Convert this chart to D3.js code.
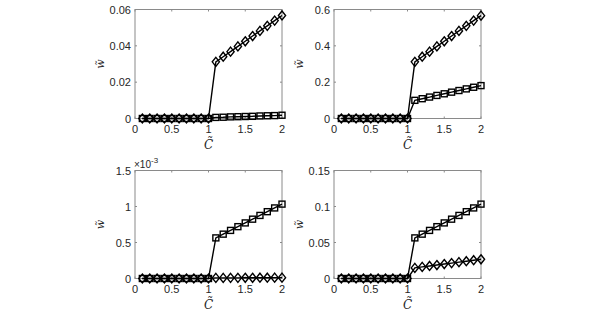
<!DOCTYPE html>
<html><head><meta charset="utf-8">
<script src="https://cdn.jsdelivr.net/npm/d3@7"></script>
<style>body{margin:0;background:#fff}svg{display:block}</style>
</head><body><svg id="c" width="598" height="321"></svg>
<script>
const xVals = [0.1,0.2,0.3,0.4,0.5,0.6,0.7,0.8,0.9,1.0,1.1,1.2,1.3,1.4,1.5,1.6,1.7,1.8,1.9,2.0];
const xTicks = [0,0.5,1,1.5,2];
// panel 1 (top-left)
const p1Diamond = [0,0,0,0,0,0,0,0,0,0,0.0312,0.0340,0.0368,0.0397,0.0425,0.0454,0.0482,0.0510,0.0539,0.0567];
const p1Square  = [0,0,0,0,0,0,0,0,0,0,0.0006,0.0007,0.0009,0.0010,0.0011,0.0012,0.0014,0.0015,0.0016,0.0018];
const p1YTicks = [0,0.02,0.04,0.06];
const p1YLabels = ["0","0.02","0.04","0.06"];
// panel 2 (top-right)
const p2Diamond = [0,0,0,0,0,0,0,0,0,0,0.312,0.340,0.368,0.397,0.425,0.454,0.482,0.510,0.539,0.566];
const p2Square  = [0,0,0,0,0,0,0,0,0,0,0.100,0.109,0.118,0.127,0.136,0.145,0.154,0.163,0.172,0.181];
const p2YTicks = [0,0.2,0.4,0.6];
const p2YLabels = ["0","0.2","0.4","0.6"];
// panel 3 (bottom-left), values in units of 1e-3
const p3Diamond = [0,0,0,0,0,0,0,0,0,0,0.008,0.008,0.009,0.009,0.010,0.010,0.011,0.011,0.012,0.012];
const p3Square  = [0,0,0,0,0,0,0,0,0,0,0.564,0.616,0.668,0.720,0.772,0.824,0.876,0.928,0.980,1.033];
const p3YTicks = [0,0.5,1,1.5];
const p3YLabels = ["0","0.5","1","1.5"];
// panel 4 (bottom-right)
const p4Diamond = [0,0,0,0,0,0,0,0,0,0,0.0147,0.0161,0.0174,0.0187,0.0201,0.0214,0.0227,0.0240,0.0254,0.0267];
const p4Square  = [0,0,0,0,0,0,0,0,0,0,0.0564,0.0616,0.0668,0.0720,0.0772,0.0824,0.0876,0.0928,0.0980,0.1033];
const p4YTicks = [0,0.05,0.1,0.15];
const p4YLabels = ["0","0.05","0.1","0.15"];

const svg = d3.select("#c");
const axisCol = "#8a8a8a", textCol = "#262626";
const sans = "'Liberation Sans', Arial, sans-serif";
const serif = "'DejaVu Serif', 'Liberation Serif', serif";

function panel(cfg){
  const {x0,x1,y0,y1,yMax,yTicks,yLabels,diamond,square,exp} = cfg;
  const g = svg.append("g");
  const xs = d3.scaleLinear().domain([0,2]).range([x0,x1]);
  const ys = d3.scaleLinear().domain([0,yMax]).range([y1,y0]);
  g.append("rect").attr("x",x0).attr("y",y0).attr("width",x1-x0).attr("height",y1-y0)
    .attr("fill","none").attr("stroke",axisCol).attr("stroke-width",1);
  const tl = 2;
  xTicks.forEach(t=>{
    g.append("line").attr("x1",xs(t)).attr("x2",xs(t)).attr("y1",y1).attr("y2",y1-tl).attr("stroke",axisCol);
    g.append("line").attr("x1",xs(t)).attr("x2",xs(t)).attr("y1",y0).attr("y2",y0+tl).attr("stroke",axisCol);
    g.append("text").attr("x",xs(t)).attr("y",y1+14).attr("text-anchor","middle")
      .style("font-family",sans).attr("font-size",11).attr("fill",textCol).text(d3.format("")(t));
  });
  yTicks.forEach((t,i)=>{
    g.append("line").attr("x1",x0).attr("x2",x0+tl).attr("y1",ys(t)).attr("y2",ys(t)).attr("stroke",axisCol);
    g.append("line").attr("x1",x1).attr("x2",x1-tl).attr("y1",ys(t)).attr("y2",ys(t)).attr("stroke",axisCol);
    g.append("text").attr("x",x0-4).attr("y",ys(t)+4).attr("text-anchor","end")
      .style("font-family",sans).attr("font-size",11).attr("fill",textCol).text(yLabels[i]);
  });
  if(exp){
    const t = g.append("text").attr("x",x0-1).attr("y",y0-3).style("font-family",sans).attr("font-size",10).attr("fill",textCol);
    t.append("tspan").text("×10");
    t.append("tspan").attr("dy",-5).attr("font-size",8).text("-3");
  }
  const xc = (x0+x1)/2;
  g.append("text").attr("x",xc).attr("y",y1+30).attr("text-anchor","middle")
    .style("font-family",serif).style("font-style","italic").attr("font-size",12).attr("fill",textCol).text("C\u0303");
  const yc = (y0+y1)/2;
  g.append("text").attr("transform",`translate(${x0-31},${yc}) rotate(-90)`).attr("text-anchor","middle")
    .style("font-family",serif).style("font-style","italic").attr("font-size",11).attr("fill",textCol).text("w\u0303");
  const line = d3.line().x((d,i)=>xs(xVals[i])).y(d=>ys(d));
  [square,diamond].forEach(s=>{
    g.append("path").attr("d",line(s)).attr("fill","none").attr("stroke","#000").attr("stroke-width",1.4);
  });
  g.selectAll(null).data(square).enter().append("rect")
    .attr("x",(d,i)=>xs(xVals[i])-3).attr("y",d=>ys(d)-3).attr("width",6).attr("height",6)
    .attr("fill","none").attr("stroke","#000").attr("stroke-width",1.4);
  g.selectAll(null).data(diamond).enter().append("path")
    .attr("d",(d,i)=>{const cx=xs(xVals[i]),cy=ys(d);return `M${cx},${cy-4.5}L${cx+3.6},${cy}L${cx},${cy+4.5}L${cx-3.6},${cy}Z`;})
    .attr("fill","none").attr("stroke","#000").attr("stroke-width",1.4);
}

panel({x0:135,x1:282,y0:9.5,y1:118.5,yMax:0.06,yTicks:p1YTicks,yLabels:p1YLabels,diamond:p1Diamond,square:p1Square});
panel({x0:334,x1:481,y0:9.5,y1:118.5,yMax:0.6,yTicks:p2YTicks,yLabels:p2YLabels,diamond:p2Diamond,square:p2Square});
panel({x0:135,x1:282,y0:170.5,y1:278.5,yMax:1.5,yTicks:p3YTicks,yLabels:p3YLabels,diamond:p3Diamond,square:p3Square,exp:true});
panel({x0:334,x1:481,y0:170.5,y1:278.5,yMax:0.15,yTicks:p4YTicks,yLabels:p4YLabels,diamond:p4Diamond,square:p4Square});
</script></body></html>
